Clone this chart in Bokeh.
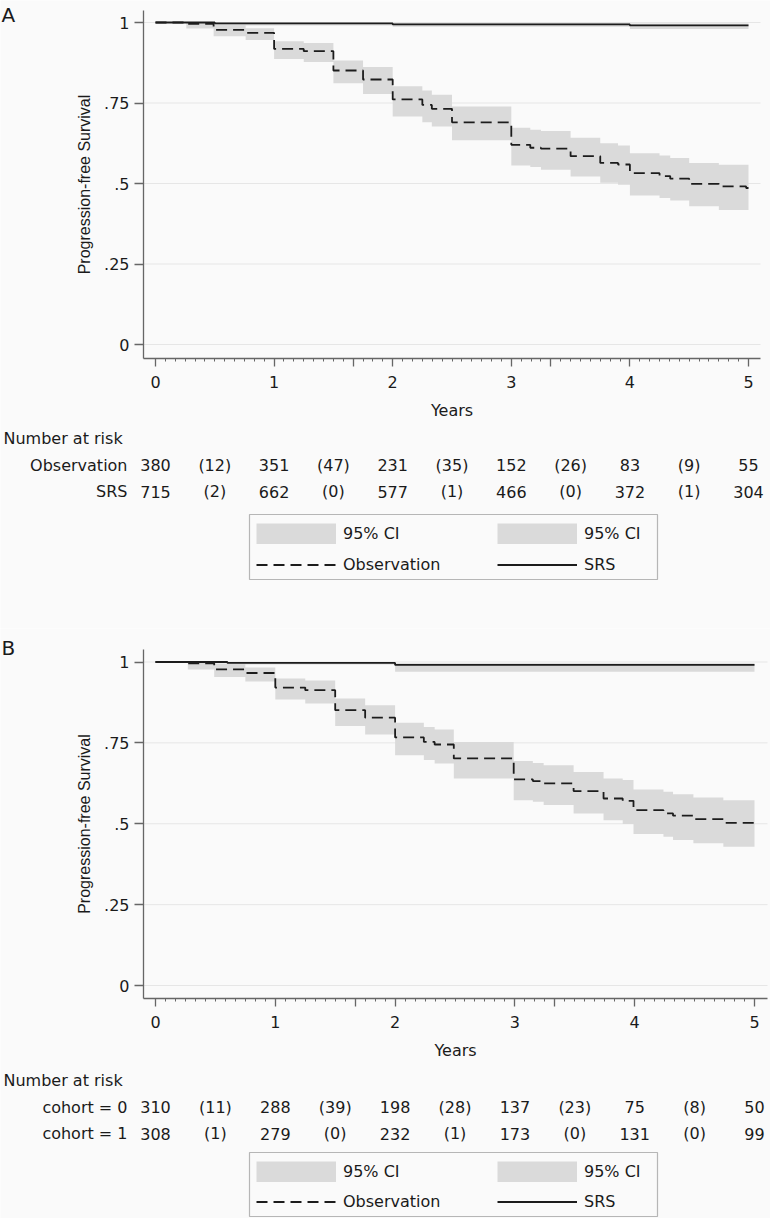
from bokeh.plotting import figure
from bokeh.layouts import column
from bokeh.models import (Range1d, FixedTicker, CustomJSTickFormatter, LinearAxis,
                          Legend, LegendItem, BoxAnnotation, ColumnDataSource)
from bokeh.core.properties import value
from bokeh.embed import file_html
from bokeh.resources import INLINE

# ------------------------------------------------------------------ data
# Panel A - Observation: Kaplan-Meier estimate (steps) with 95% CI
obs_a_t = [0.00, 0.26, 0.49, 0.76, 1.00, 1.25, 1.50, 1.75, 2.00, 2.25, 2.33, 2.50,
           3.00, 3.16, 3.25, 3.50, 3.75, 3.90, 4.00, 4.25, 4.34, 4.50, 4.75, 4.98, 5.00]
obs_a_s = [1.000, 0.996, 0.977, 0.968, 0.918, 0.911, 0.851, 0.823, 0.761, 0.744, 0.732, 0.690,
           0.620, 0.611, 0.608, 0.585, 0.564, 0.559, 0.532, 0.523, 0.515, 0.499, 0.491, 0.486, 0.486]
obs_a_lo = [1.000, 0.981, 0.957, 0.946, 0.887, 0.877, 0.811, 0.778, 0.708, 0.690, 0.677, 0.634,
            0.556, 0.551, 0.543, 0.522, 0.502, 0.496, 0.463, 0.455, 0.447, 0.429, 0.418, 0.418, 0.418]
obs_a_hi = [1.000, 0.999, 0.996, 0.982, 0.942, 0.936, 0.882, 0.862, 0.802, 0.789, 0.776, 0.739,
            0.673, 0.667, 0.663, 0.642, 0.625, 0.618, 0.594, 0.587, 0.579, 0.564, 0.558, 0.558, 0.558]
# Panel A - SRS
srs_a_t = [0.00, 0.50, 2.00, 4.00, 5.00]
srs_a_s = [1.000, 0.997, 0.994, 0.991, 0.991]
srs_a_lo = [1.000, 0.991, 0.987, 0.980, 0.980]
srs_a_hi = [1.000, 0.9995, 0.999, 0.997, 0.997]

# Panel B - Observation
obs_b_t = [0.00, 0.27, 0.49, 0.75, 1.00, 1.25, 1.50, 1.75, 2.00, 2.24, 2.33, 2.49,
           2.99, 3.15, 3.24, 3.49, 3.74, 3.90, 3.99, 4.24, 4.32, 4.49, 4.74, 5.00]
obs_b_s = [1.000, 0.996, 0.977, 0.966, 0.921, 0.913, 0.851, 0.828, 0.767, 0.753, 0.745, 0.702,
           0.637, 0.632, 0.625, 0.601, 0.578, 0.571, 0.542, 0.532, 0.525, 0.514, 0.503, 0.503]
obs_b_lo = [1.000, 0.977, 0.954, 0.940, 0.884, 0.872, 0.802, 0.776, 0.712, 0.697, 0.686, 0.640,
            0.573, 0.568, 0.558, 0.532, 0.511, 0.499, 0.468, 0.460, 0.450, 0.440, 0.429, 0.429]
obs_b_hi = [1.000, 0.998, 0.995, 0.983, 0.949, 0.943, 0.887, 0.866, 0.812, 0.799, 0.791, 0.753,
            0.694, 0.688, 0.681, 0.660, 0.640, 0.635, 0.606, 0.599, 0.591, 0.581, 0.573, 0.573]
# Panel B - SRS
srs_b_t = [0.00, 0.60, 2.00, 5.00]
srs_b_s = [1.000, 0.997, 0.991, 0.991]
srs_b_lo = [1.000, 0.992, 0.970, 0.970]
srs_b_hi = [1.000, 0.9995, 0.996, 0.996]

# axis ticks
x_major_ticks = [0, 1, 2, 3, 4, 5]
x_mid_ticks = [20 / 12, 40 / 12]
x_minor_ticks = [m / 12 for m in range(61)]
y_ticks = [0, 0.25, 0.5, 0.75, 1]

# number-at-risk tables
risk_times = [0, 1, 2, 3, 4, 5]
event_times = [0.5, 1.5, 2.5, 3.5, 4.5]
a_row_labels = ["Observation", "SRS"]
a_obs_risk = [380, 351, 231, 152, 83, 55]
a_obs_events = [12, 47, 35, 26, 9]
a_srs_risk = [715, 662, 577, 466, 372, 304]
a_srs_events = [2, 0, 1, 0, 1]
b_row_labels = ["cohort = 0", "cohort = 1"]
b_c0_risk = [310, 288, 198, 137, 75, 50]
b_c0_events = [11, 39, 28, 23, 8]
b_c1_risk = [308, 279, 232, 173, 131, 99]
b_c1_events = [1, 0, 1, 0, 0]

legend_labels = ["95% CI", "Observation", "95% CI", "SRS"]

# ------------------------------------------------------------------ style / layout
W = 770
BG = "#fafafa"
CI = "#dadada"
LINE = "#1c1c1c"
AX = "#666666"
GRID = "#e6e6e6"
TXT = "#1a1a1a"
FONT = "DejaVu Sans"
DASH = "11 6"
LW = 1.8
NAN = float("nan")

# pixel layout of each panel (panel-local pixels)
GA = dict(H=628, x_t0=155, x_t5=748, y_v1=22, y_v0=344,
          ax_l=143, ax_r=760, ax_t=10, ax_b=358,
          rows=[438, 464.5, 491], box=(514, 579), items_top=523, spacing=10, letter_y=14)
GB = dict(H=590, x_t0=155, x_t5=754, y_v1=33.5, y_v0=357,
          ax_l=143, ax_r=767, ax_t=21.3, ax_b=370.3,
          rows=[452, 478.5, 505], box=(524, 588), items_top=533, spacing=9, letter_y=19.5)


def panel(g, letter, obs, srs, row_labels, rows):
    ppx = (g["x_t5"] - g["x_t0"]) / 5.0
    ppy = g["y_v0"] - g["y_v1"]

    def X(px):
        return (px - g["x_t0"]) / ppx

    def Y(py):
        return (g["y_v0"] - py) / ppy

    H = g["H"]
    p = figure(width=W, height=H, x_range=Range1d(X(0), X(W)), y_range=Range1d(Y(H), Y(0)),
               min_border=0, x_axis_type=None, y_axis_type=None,
               output_backend="svg", toolbar_location=None,
               background_fill_color=BG, border_fill_color=BG, outline_line_color=None)

    xl, xr = X(g["ax_l"]), X(g["ax_r"])
    yb, yt = Y(g["ax_b"]), Y(g["ax_t"])

    # horizontal grid lines at the y ticks
    p.segment(x0=[xl] * len(y_ticks), x1=[xr] * len(y_ticks), y0=y_ticks, y1=y_ticks,
              line_color=GRID, line_width=1)

    # axes
    yax = LinearAxis(fixed_location=xl, bounds=(yb, yt),
                     ticker=FixedTicker(ticks=y_ticks, minor_ticks=[]),
                     formatter=CustomJSTickFormatter(
                         code="return tick === 0 ? '0' : (tick === 1 ? '1' : String(tick).replace(/^0\\./, '.'));"))
    xax = LinearAxis(fixed_location=yb, bounds=(xl, xr),
                     ticker=FixedTicker(ticks=x_major_ticks + x_mid_ticks, minor_ticks=x_minor_ticks),
                     formatter=CustomJSTickFormatter(
                         code="return Number.isInteger(tick) ? tick.toFixed(0) : '';"))
    for ax in (xax, yax):
        ax.axis_line_color = AX
        ax.axis_line_width = 1.3
        ax.major_tick_line_color = AX
        ax.major_tick_line_width = 1.3
        ax.minor_tick_line_color = AX
        ax.minor_tick_line_width = 1
        ax.major_tick_in = 0
        ax.minor_tick_in = 0
        ax.major_label_text_font = FONT
        ax.major_label_text_font_size = "16px"
        ax.major_label_text_color = TXT
        ax.axis_label_text_font_style = "normal"
        ax.axis_label_text_font_size = "16px"
        ax.axis_label_text_color = TXT
    xax.axis_label = "Years"
    xax.axis_label_text_font = FONT
    xax.major_tick_out = 8
    xax.minor_tick_out = 3
    xax.major_label_standoff = 9
    xax.axis_label_standoff = 10
    yax.axis_label = "Progression-free Survival"
    yax.axis_label_text_font = "Liberation Sans"
    yax.major_tick_out = 9
    yax.minor_tick_out = 0
    yax.major_label_standoff = 5
    yax.axis_label_standoff = 8
    p.add_layout(yax, "left")
    p.add_layout(xax, "below")

    # confidence bands and survival curves
    for (t, s, lo, hi) in (obs, srs):
        p.varea_step(x=t, y1=lo, y2=hi, step_mode="after", fill_color=CI, fill_alpha=1.0)
    r_obs = p.step(x=obs[0], y=obs[1], mode="after", line_color=LINE, line_width=LW, line_dash=DASH)
    r_srs = p.step(x=srs[0], y=srs[1], mode="after", line_color=LINE, line_width=LW)

    tf = dict(text_font=value(FONT), text_color=TXT, text_baseline="middle")
    # panel letter
    p.text(x=[X(1)], y=[Y(g["letter_y"])], text=[letter], text_align="left",
           text_font_size=value("20px"), **tf)

    # number-at-risk table
    ry = [Y(v) for v in g["rows"]]
    p.text(x=[X(3)], y=[ry[0]], text=["Number at risk"], text_align="left",
           text_font_size=value("16px"), **tf)
    p.text(x=[X(127)] * len(row_labels), y=ry[1:], text=row_labels, text_align="right",
           text_font_size=value("16px"), **tf)
    for k, (risk, ev) in enumerate(rows):
        src = ColumnDataSource(dict(
            x=risk_times + event_times,
            y=[ry[k + 1]] * (len(risk_times) + len(event_times)),
            text=[str(n) for n in risk] + ["(%d)" % e for e in ev]))
        p.text(x="x", y="y", text="text", source=src, text_align="center",
               text_font_size=value("16px"), **tf)

    # legend: grey swatches from data-less thick lines, curves from the real renderers
    ci1 = p.line(x=[NAN], y=[NAN], line_color=CI, line_width=21)
    ci2 = p.line(x=[NAN], y=[NAN], line_color=CI, line_width=21)
    leg_bottom = H - (g["items_top"] + 42 + g["spacing"])
    common = dict(orientation="vertical", glyph_width=80, glyph_height=21, label_height=21,
                  label_standoff=7, spacing=g["spacing"], padding=0, margin=0,
                  border_line_color=None, background_fill_alpha=0,
                  label_text_font=FONT, label_text_font_size="16px",
                  label_text_color=TXT)
    leg1 = Legend(items=[LegendItem(label=legend_labels[0], renderers=[ci1]),
                         LegendItem(label=legend_labels[1], renderers=[r_obs])],
                  location=(256, leg_bottom), **common)
    leg2 = Legend(items=[LegendItem(label=legend_labels[2], renderers=[ci2]),
                         LegendItem(label=legend_labels[3], renderers=[r_srs])],
                  location=(497, leg_bottom), **common)
    p.add_layout(leg1)
    p.add_layout(leg2)
    b0, b1 = g["box"]
    p.add_layout(BoxAnnotation(left=X(249), right=X(657), top=Y(b0), bottom=Y(b1),
                               fill_color=None, fill_alpha=0, line_color=TXT, line_width=1.2))
    return p


pa = panel(GA, "A",
           (obs_a_t, obs_a_s, obs_a_lo, obs_a_hi),
           (srs_a_t, srs_a_s, srs_a_lo, srs_a_hi),
           a_row_labels, [(a_obs_risk, a_obs_events), (a_srs_risk, a_srs_events)])
pb = panel(GB, "B",
           (obs_b_t, obs_b_s, obs_b_lo, obs_b_hi),
           (srs_b_t, srs_b_s, srs_b_lo, srs_b_hi),
           b_row_labels, [(b_c0_risk, b_c0_events), (b_c1_risk, b_c1_events)])

layout = column(pa, pb, spacing=0)
open("out.html", "w").write(file_html(layout, INLINE, title="Progression-free Survival"))
